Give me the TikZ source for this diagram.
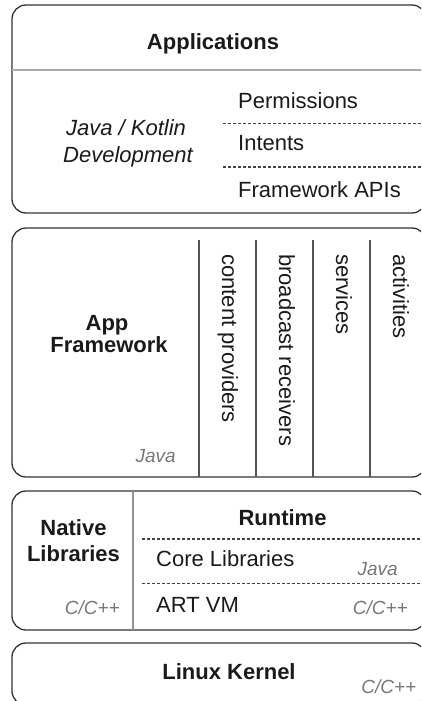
\documentclass[tikz,border=0pt]{standalone}
\usepackage{fontspec}
\setmainfont{Liberation Sans}
\definecolor{boxc}{HTML}{333333}
\definecolor{sepc}{HTML}{AAAAAA}
\definecolor{linec}{HTML}{555555}
\definecolor{dashc}{HTML}{444444}
\definecolor{txt}{HTML}{1A1A1A}
\definecolor{gr}{HTML}{777777}
\begin{document}
\begin{tikzpicture}[x=1pt,y=-1pt,
  box/.style={draw=boxc, line width=1.3pt, rounded corners=14pt},
  main/.style={inner sep=0pt, text=txt, font=\fontsize{22}{26}\selectfont},
  head/.style={inner sep=0pt, text=txt, font=\fontsize{22}{26}\selectfont\bfseries},
  lang/.style={inner sep=0pt, text=gr, font=\fontsize{19}{22}\selectfont\itshape},
  dashline/.style={draw=dashc, line width=1.1pt, dash pattern=on 3pt off 2pt},
  colline/.style={draw=linec, line width=1.3pt},
  sepline/.style={draw=sepc, line width=1.4pt},
  vert/.style={main, rotate=-90, anchor=base west}
]
\useasboundingbox (0,0) rectangle (421,701);
\clip (0,0) rectangle (421,701);

% ---------- Applications ----------
\draw[box] (12,5) rectangle (426,213);
\coordinate (a1) at (12,70);
\coordinate (a2) at (426,70);
\draw[sepline] (a1) -- (a2);
\node[head, anchor=base] (apps) at (213,49) {Applications};
\node[main, anchor=base, font=\fontsize{22}{26}\selectfont\itshape] (jk) at (126,135) {Java / Kotlin};
\node[main, anchor=base, font=\fontsize{22}{26}\selectfont\itshape] (dev) at (128,162) {Development};
\node[main, anchor=base west] (perm) at (238,108) {Permissions};
\node[main, anchor=base west] (int) at (238,150) {Intents};
\node[main, anchor=base west] (fapi) at (238,197) {Framework APIs};
\coordinate (d1a) at (223,123.5);
\coordinate (d1b) at (426,123.5);
\coordinate (d2a) at (223,167);
\coordinate (d2b) at (426,167);
\draw[dashline] (d1a) -- (d1b);
\draw[dashline] (d2a) -- (d2b);

% ---------- App Framework ----------
\draw[box] (12,228) rectangle (426,477);
\node[head, anchor=base] (app) at (107,330) {App};
\node[head, anchor=base] (fw) at (109,352) {Framework};
\node[lang, anchor=base east] (fwjava) at (176,462) {Java};
\foreach \x/\n in {199/c1,256/c2,313/c3,370/c4}{
  \coordinate (\n t) at (\x,240);
  \coordinate (\n b) at (\x,477);
  \draw[colline] (\n t) -- (\n b);
}
\node[vert] (cp) at (222,254) {content providers};
\node[vert] (br) at (279,254) {broadcast receivers};
\node[vert] (sv) at (336,254) {services};
\node[vert] (ac) at (393,254) {activities};

% ---------- Native Libraries / Runtime ----------
\draw[box] (12,491) rectangle (426,630);
\coordinate (nv1) at (133,491);
\coordinate (nv2) at (133,630);
\draw[draw=gr!80, line width=1.2pt] (nv1) -- (nv2);
\node[head, anchor=base] (nat) at (73.5,535) {Native};
\node[head, anchor=base] (lib) at (73.5,561.5) {Libraries};
\node[lang, anchor=base east] (natc) at (120,614) {C/C++};
\node[head, anchor=base] (rt) at (282.5,525) {Runtime};
\coordinate (r1a) at (142,539);
\coordinate (r1b) at (426,539);
\coordinate (r2a) at (142,583.5);
\coordinate (r2b) at (426,583.5);
\draw[dashline] (r1a) -- (r1b);
\draw[dashline] (r2a) -- (r2b);
\node[main, anchor=base west] (core) at (156,566) {Core Libraries};
\node[lang, anchor=base east] (corej) at (398,575) {Java};
\node[main, anchor=base west] (art) at (156,612.5) {ART VM};
\node[lang, anchor=base east] (artc) at (408,614) {C/C++};

% ---------- Linux Kernel ----------
\draw[box] (12,643) rectangle (426,705);
\node[head, anchor=base] (lk) at (229,679) {Linux Kernel};
\node[lang, anchor=base east] (lkc) at (416.5,693) {C/C++};
\end{tikzpicture}
\end{document}
